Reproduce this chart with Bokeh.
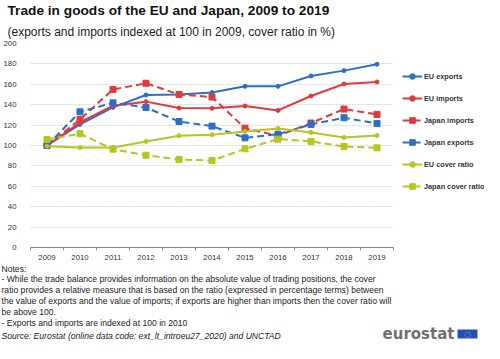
from bokeh.plotting import figure
from bokeh.models import Title, Legend, LegendItem, FixedTicker, Range1d, Label, BoxAnnotation
from bokeh.layouts import column
from bokeh.embed import file_html
from bokeh.resources import INLINE

years = list(range(2009, 2020))
year_labels = [str(y) for y in years]
eu_exports = [100, 120.7, 137.4, 149.5, 150, 152, 158, 158, 168.2, 173.4, 179.7]
eu_imports = [100, 122.6, 139, 143, 136.7, 136.4, 138.7, 134.4, 148.5, 160.3, 162.3]
japan_imports = [100, 125.6, 155, 161, 150, 147.5, 117, 109.5, 122, 135.7, 130.5]
japan_exports = [100, 133, 141.8, 137.2, 123.5, 119, 107.5, 111, 120.7, 127.2, 121.6]
eu_cover = [99.3, 98, 98, 104, 109.5, 110.5, 113.8, 116.7, 112.8, 107.9, 109.8]
japan_cover = [105.9, 111.5, 96.4, 90.5, 86.2, 85.2, 96.7, 106.2, 104, 99, 97.7]
y_ticks = list(range(0, 201, 20))

title_text = "Trade in goods of the EU and Japan, 2009 to 2019"
subtitle_text = "(exports and imports indexed at 100 in 2009, cover ratio in %)"
notes = [
    "Notes:",
    "- While the trade balance provides information on the absolute value of trading positions, the cover",
    "ratio provides a relative measure that is based on the ratio (expressed in percentage terms) between",
    "the value of exports and the value of imports; if exports are higher than imports then the cover ratio will",
    "be above 100.",
    " - Exports and imports are indexed at 100 in 2010",
]
source_text = "Source: Eurostat (online data code: ext_lt_introeu27_2020) and UNCTAD"

BLUE = "#2d6fc4"
RED = "#e0393e"
GREEN = "#b6c61e"
FONT = "Liberation Sans"

W = 484
H1 = 262
H2 = 81
LEFT = 25
PLOT_W = 367  # width of the area holding the years
frame_w = W - LEFT
x_end = 2008.5 + 11 * frame_w / PLOT_W

p = figure(width=W, height=H1, output_backend="svg", toolbar_location=None,
           x_range=Range1d(2008.5, x_end), y_range=Range1d(0, 200),
           min_border_left=LEFT, min_border_right=0, min_border_top=0, min_border_bottom=10,
           outline_line_color=None)
p.frame_align = False

sub = Title(text=subtitle_text, text_font=FONT, text_font_size="12px", text_font_style="normal",
            text_color="#222222", align="left", offset=-23, standoff=9)
p.add_layout(sub, "above")
main = Title(text=title_text, text_font=FONT, text_font_size="13.7px", text_font_style="bold",
             text_color="#111111", align="left", offset=-23, standoff=1)
p.add_layout(main, "above")

# axes
p.yaxis.ticker = FixedTicker(ticks=y_ticks)
p.yaxis.axis_line_color = None
p.yaxis.major_tick_line_color = None
p.yaxis.minor_tick_line_color = None
p.yaxis.major_label_text_font = FONT
p.yaxis.major_label_text_font_size = "7.8px"
p.yaxis.major_label_text_color = "#333333"
p.yaxis.major_label_standoff = 8

p.xaxis.ticker = FixedTicker(ticks=years, minor_ticks=[y - 0.5 for y in years] + [2019.5])
p.xaxis.bounds = (2008.5, 2019.5)
p.xaxis.major_label_overrides = {y: s for y, s in zip(years, year_labels)}
p.xaxis.axis_line_color = "#888888"
p.xaxis.major_tick_line_color = None
p.xaxis.minor_tick_line_color = "#888888"
p.xaxis.minor_tick_out = 3
p.xaxis.minor_tick_in = 0
p.xaxis.major_label_text_font = FONT
p.xaxis.major_label_text_font_size = "7.8px"
p.xaxis.major_label_text_color = "#333333"
p.xaxis.major_label_standoff = 1
p.xaxis.axis_label_standoff = 0

p.xgrid.grid_line_color = None
p.ygrid.ticker = FixedTicker(ticks=y_ticks[1:])
p.ygrid.cross_bounds = (2008.5, 2019.5)
p.ygrid.grid_line_color = "#d9d9d9"
p.ygrid.grid_line_dash = "2 1"

series = [
    ("EU exports", eu_exports, BLUE, "solid", "circle", 4),
    ("EU imports", eu_imports, RED, "solid", "circle", 4),
    ("Japan imports", japan_imports, RED, "7 4", "square", 6),
    ("Japan exports", japan_exports, BLUE, "7 4", "square", 6),
    ("EU cover ratio", eu_cover, GREEN, "solid", "circle", 4),
    ("Japan cover ratio", japan_cover, GREEN, "7 4", "square", 6),
]
items = []
for name, vals, col, dash, marker, size in series:
    l = p.line(years, vals, line_color=col, line_width=2, line_dash=dash)
    m = p.scatter(years, vals, marker=marker, size=size, fill_color=col, line_color=col)
    items.append(LegendItem(label=name, renderers=[l, m]))

legend = Legend(items=items, location=(372, 54), border_line_color=None, background_fill_alpha=0,
                label_text_font=FONT, label_text_font_size="7.3px", label_text_font_style="bold",
                label_text_color="#333333", glyph_width=20, glyph_height=14, label_height=14,
                spacing=8, padding=0, margin=0, label_standoff=2)
p.add_layout(legend, "center")

# notes area (data units = pixels inside this strip)
q = figure(width=W, height=H2, output_backend="svg", toolbar_location=None,
           x_range=Range1d(0, W), y_range=Range1d(H2, 0),
           x_axis_location=None, y_axis_location=None,
           min_border_left=0, min_border_right=0, min_border_top=0, min_border_bottom=0,
           outline_line_color=None)
q.frame_align = False
q.grid.visible = False
for i, t in enumerate(notes):
    q.add_layout(Label(x=1, y=6 + i * 10.8, text=t, text_font=FONT, text_font_size="8.6px",
                       text_color="#222222", text_baseline="middle"))
q.add_layout(Label(x=1, y=73, text=source_text, text_font=FONT, text_font_size="8.6px",
                   text_font_style="italic", text_color="#222222", text_baseline="middle"))
q.add_layout(Label(x=454, y=71.5, text="eurostat", text_font="DejaVu Sans", text_font_size="15px",
                   text_font_style="bold", text_color="#707070", text_align="right",
                   text_baseline="middle"))
q.add_layout(BoxAnnotation(left=457, right=477, top=67, bottom=76, fill_color="#1f4fc4",
                           fill_alpha=1, line_color=None))
q.add_layout(Label(x=467, y=71.5, text="\u25CC", text_font="DejaVu Sans", text_font_size="8px",
                   text_color="#f2d21b", text_align="center", text_baseline="middle"))

layout = column(p, q, spacing=0)
open("out.html", "w").write(file_html(layout, INLINE))
